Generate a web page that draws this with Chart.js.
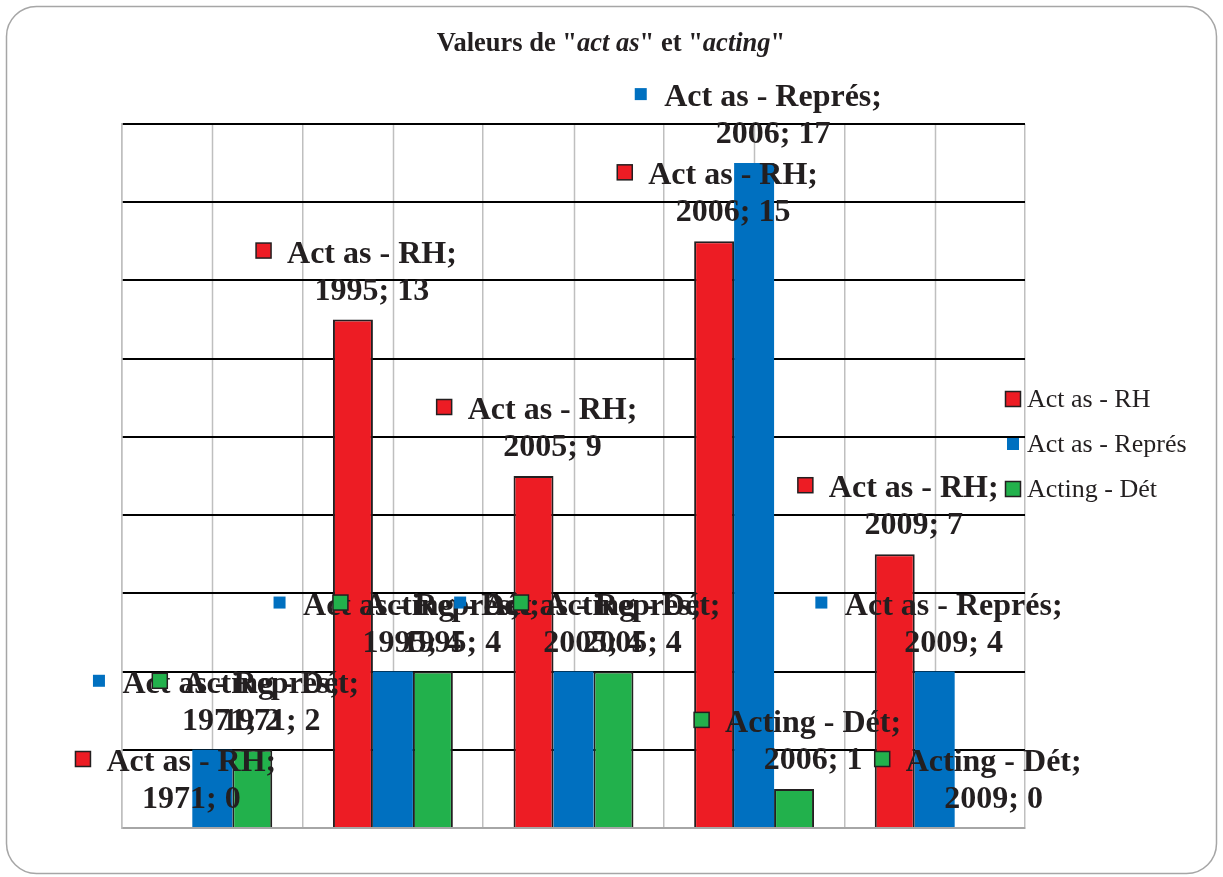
<!DOCTYPE html>
<html><head><meta charset="utf-8">
<script src="https://cdn.jsdelivr.net/npm/chart.js@4/dist/chart.umd.min.js"></script>
<style>html,body{margin:0;padding:0;background:#fff;}</style>
</head><body>
<canvas id="c" width="1223" height="877"></canvas>
<script>
const categories = ['1971', '1995', '2005', '2006', '2009'];
const seriesNames = ['Act as - RH', 'Act as - Représ', 'Acting - Dét'];
const actAsRH = [0, 13, 9, 15, 7];
const actAsRepres = [2, 4, 4, 17, 4];
const actingDet = [2, 4, 4, 1, 0];
const yTickValues = [0, 2, 4, 6, 8, 10, 12, 14, 16, 18];
const titleRuns = [
  ['Valeurs de "', false], ['act as', true], ['" et "', false], ['acting', true], ['"', false]
];

const RED = '#ED1C24', BLUE = '#0070C0', GREEN = '#22B14C', INK = '#231F20';
const SERIF = '"Liberation Serif", "Times New Roman", serif';
const markerStyle = [
  {fill: RED, size: 15, border: true},
  {fill: BLUE, size: 12, border: false},
  {fill: GREEN, size: 15, border: true}
];

function drawMarker(ctx, cx, cy, st) {
  const s = st.size;
  ctx.fillStyle = st.fill;
  ctx.fillRect(cx - s / 2, cy - s / 2, s, s);
  if (st.border) {
    ctx.lineWidth = 1.5;
    ctx.strokeStyle = '#231F20';
    ctx.strokeRect(cx - s / 2, cy - s / 2, s, s);
  }
}

const framePlugin = {
  id: 'frame',
  beforeDraw(chart) {
    const ctx = chart.ctx;
    ctx.save();
    ctx.fillStyle = '#fff';
    ctx.fillRect(0, 0, chart.width, chart.height);
    ctx.beginPath();
    ctx.lineWidth = 1.5;
    ctx.strokeStyle = '#A6A6A6';
    ctx.roundRect(6.5, 6.5, 1210, 867, 30);
    ctx.stroke();
    // vertical lines at category centres
    const xs = chart.scales.x, ca = chart.chartArea;
    ctx.strokeStyle = '#BFBFBF';
    ctx.lineWidth = 1.5;
    categories.forEach((c, i) => {
      const x = Math.round(xs.getPixelForValue(i)) + 0.5;
      ctx.beginPath();
      ctx.moveTo(x, ca.top);
      ctx.lineTo(x, ca.bottom);
      ctx.stroke();
    });
    // title
    ctx.fillStyle = INK;
    ctx.textBaseline = 'alphabetic';
    let total = 0;
    const tf = (it) => (it ? 'italic ' : '') + 'bold 26.5px ' + SERIF;
    titleRuns.forEach(([t, it]) => {
      ctx.font = tf(it);
      total += ctx.measureText(t).width;
    });
    let x = 611 - total / 2;
    titleRuns.forEach(([t, it]) => {
      ctx.font = tf(it);
      ctx.fillText(t, x, 51);
      x += ctx.measureText(t).width;
    });
    ctx.restore();
  }
};

const labelPlugin = {
  id: 'barLabels',
  afterDatasetsDraw(chart) {
    const ctx = chart.ctx;
    ctx.save();
    ctx.font = 'bold 32px ' + SERIF;
    ctx.textBaseline = 'alphabetic';
    ctx.textAlign = 'left';
    chart.data.datasets.forEach((ds, di) => {
      const meta = chart.getDatasetMeta(di);
      meta.data.forEach((el, j) => {
        const l1 = seriesNames[di] + ';';
        const l2 = categories[j] + '; ' + ds.data[j];
        const w1 = ctx.measureText(l1).width, w2 = ctx.measureText(l2).width;
        const tw = Math.max(w1, w2);
        const total = 32 + tw;
        const left = el.x + 3 - total / 2;
        const textLeft = left + 32;
        const b1 = el.y - 57, b2 = el.y - 20;
        drawMarker(ctx, textLeft - 23.5, b1 - 12, markerStyle[di]);
        ctx.fillStyle = INK;
        ctx.fillText(l1, textLeft + (tw - w1) / 2, b1);
        ctx.fillText(l2, textLeft + (tw - w2) / 2, b2);
      });
    });
    ctx.restore();
  },
  afterDraw(chart) {
    const ctx = chart.ctx;
    ctx.save();
    ctx.font = '26px ' + SERIF;
    ctx.fillStyle = INK;
    ctx.textBaseline = 'alphabetic';
    const baselines = [407, 452, 497];
    seriesNames.forEach((n, i) => {
      drawMarker(ctx, 1013, baselines[i] - 8, markerStyle[i]);
      ctx.fillStyle = INK;
      ctx.fillText(n, 1027, baselines[i]);
    });
    ctx.restore();
  }
};

new Chart(document.getElementById('c'), {
  type: 'bar',
  data: {
    labels: categories,
    datasets: [
      {label: seriesNames[0], data: actAsRH, backgroundColor: RED, borderColor: '#231F20', borderWidth: 2},
      {label: seriesNames[1], data: actAsRepres, backgroundColor: BLUE, borderColor: BLUE, borderWidth: 0},
      {label: seriesNames[2], data: actingDet, backgroundColor: GREEN, borderColor: '#231F20', borderWidth: 2}
    ]
  },
  options: {
    responsive: false,
    animation: false,
    layout: {padding: {left: 122, right: 198, top: 124, bottom: 49}},
    datasets: {bar: {barPercentage: 1, categoryPercentage: 0.664}},
    plugins: {legend: {display: false}, title: {display: false}, tooltip: {enabled: false}},
    scales: {
      x: {
        offset: true,
        grid: {offset: true, color: '#BFBFBF', lineWidth: 1.5, drawTicks: false},
        border: {color: '#A6A6A6', width: 2},
        ticks: {display: false}
      },
      y: {
        min: 0, max: 18,
        afterBuildTicks: (s) => { s.ticks = yTickValues.map(v => ({value: v})); },
        grid: {color: (c) => (c.tick && c.tick.value === 0) ? 'rgba(0,0,0,0)' : '#000', lineWidth: 2, drawTicks: false},
        border: {color: '#BFBFBF', width: 1.5},
        ticks: {display: false}
      }
    }
  },
  plugins: [framePlugin, labelPlugin]
});
</script>
</body></html>
